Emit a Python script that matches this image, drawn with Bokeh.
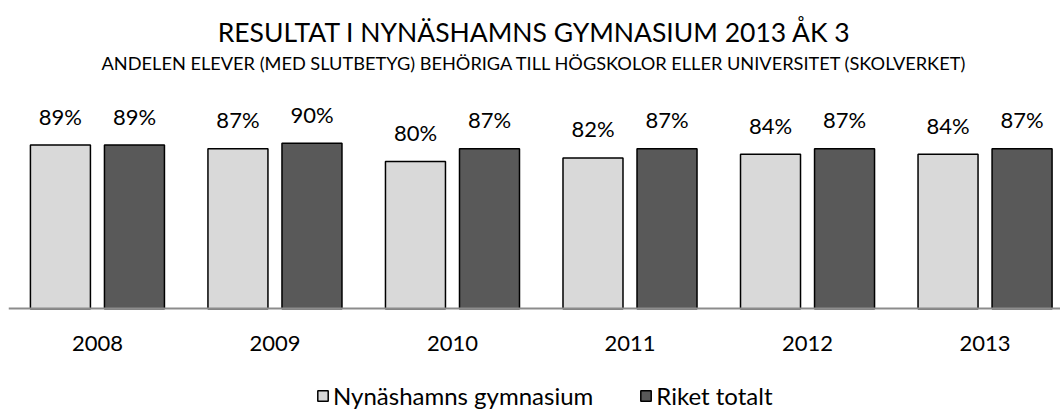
from bokeh.plotting import figure
from bokeh.models import (ColumnDataSource, Range1d, FixedTicker, Title, Legend, LegendItem)
from bokeh.transform import dodge
from bokeh.core.properties import value
from bokeh.embed import file_html
from bokeh.resources import INLINE

# ---- data ----
years = ["2008", "2009", "2010", "2011", "2012", "2013"]
nynashamn = [89, 87, 80, 82, 84, 84]
riket = [89, 90, 87, 87, 87, 87]
series_names = ["Nynäshamns gymnasium", "Riket totalt"]
title_text = "RESULTAT I NYNÄSHAMNS GYMNASIUM 2013 ÅK 3"
subtitle_text = "ANDELEN ELEVER (MED SLUTBETYG) BEHÖRIGA TILL HÖGSKOLOR ELLER UNIVERSITET (SKOLVERKET)"

FONT = "Lato"
LIGHT = "#d9d9d9"
DARK = "#595959"

idx = list(range(len(years)))
src = ColumnDataSource(dict(
    idx=idx,
    nyn=nynashamn,
    rik=riket,
    nyn_lbl=[f"{v}%" for v in nynashamn],
    rik_lbl=[f"{v}%" for v in riket],
))

p = figure(frame_width=1052, frame_height=336, output_backend="svg", toolbar_location=None,
           x_range=Range1d(-0.501, 5.425), y_range=Range1d(-55.27, 127.34),
           min_border_left=8, min_border_right=0, min_border_top=74, min_border_bottom=0)
p.outline_line_color = None
p.xgrid.visible = False
p.ygrid.visible = False
p.yaxis.visible = False
p.background_fill_color = None
p.border_fill_color = "white"

off = 0.2085
bw = 0.338
r1 = p.vbar(x=dodge("idx", -off, range=p.x_range), top="nyn", width=bw, bottom=0, source=src,
            fill_color=LIGHT, line_color="black", line_width=1.5)
r2 = p.vbar(x=dodge("idx", off, range=p.x_range), top="rik", width=bw, bottom=0, source=src,
            fill_color=DARK, line_color="black", line_width=1.5)

p.text(x=dodge("idx", -off, range=p.x_range), y="nyn", text="nyn_lbl", source=src,
       text_font=value(FONT), text_font_size="22px", text_align="center",
       text_baseline="alphabetic", y_offset=-29, text_color="black")
p.text(x=dodge("idx", off, range=p.x_range), y="rik", text="rik_lbl", source=src,
       text_font=value(FONT), text_font_size="22px", text_align="center",
       text_baseline="alphabetic", y_offset=-29, text_color="black")

ax = p.xaxis[0]
ax.fixed_location = 0
ax.ticker = FixedTicker(ticks=idx)
ax.major_label_overrides = {i: y for i, y in zip(idx, years)}
ax.major_tick_line_color = None
ax.minor_tick_line_color = None
ax.axis_line_color = "#8c8c8c"
ax.axis_line_width = 2
ax.major_label_text_font = FONT
ax.major_label_text_font_size = "22px"
ax.major_label_text_color = "black"
ax.major_label_standoff = 21

legend = Legend(items=[LegendItem(label=series_names[0], renderers=[r1]),
                       LegendItem(label=series_names[1], renderers=[r2])],
                orientation="horizontal", location=(308, 0),
                label_text_font=FONT, label_text_font_size="24px", label_text_color="black",
                glyph_width=13, glyph_height=13, label_standoff=4, spacing=46,
                padding=0, margin=0, border_line_color=None, background_fill_color=None)
p.add_layout(legend, "center")

p.add_layout(Title(text=subtitle_text, align="center", text_font=FONT, text_font_size="18.2px",
                   text_font_style="normal", text_color="black", standoff=1, offset=7), "above")
p.add_layout(Title(text=title_text, align="center", text_font=FONT, text_font_size="26.5px",
                   text_font_style="normal", text_color="black", standoff=3, offset=11), "above")

open("out.html", "w").write(file_html(p, INLINE))
